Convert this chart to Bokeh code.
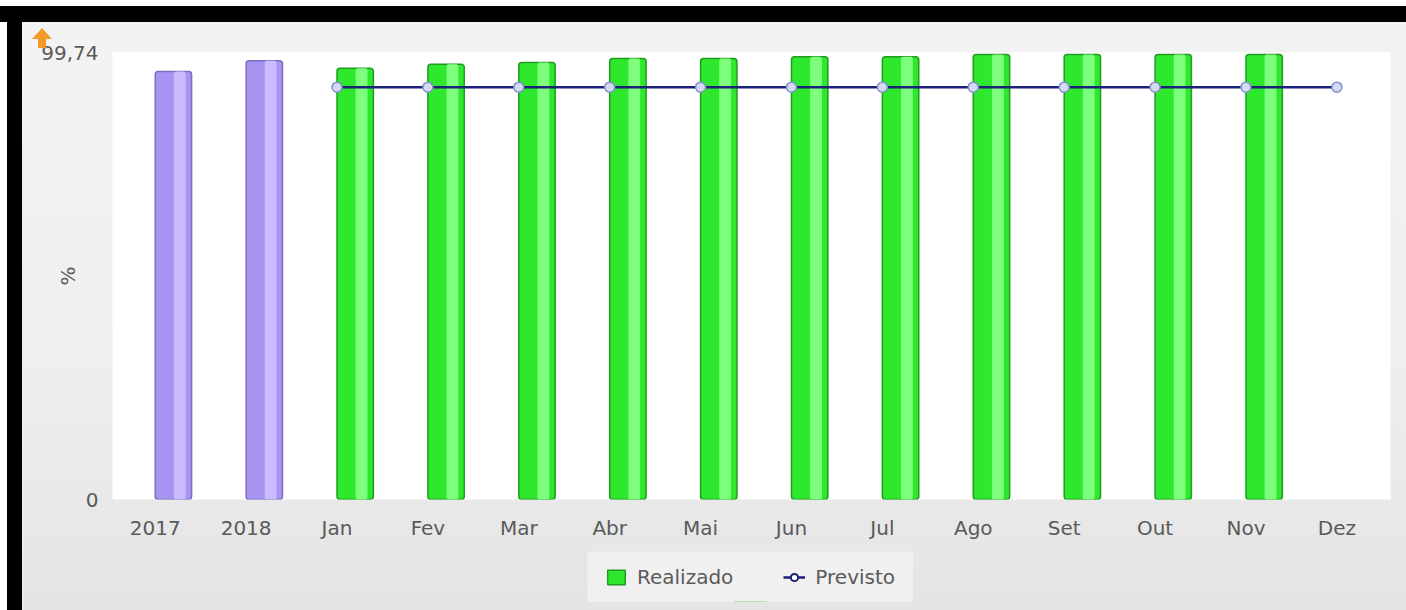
from bokeh.plotting import figure
from bokeh.models import (Range1d, FixedTicker, Legend, LegendItem, Div,
                          ColumnDataSource)
from bokeh.layouts import column, row
from bokeh.transform import dodge
from bokeh.embed import file_html
from bokeh.resources import INLINE

# ---- data ----
categories = ["2017", "2018", "Jan", "Fev", "Mar", "Abr", "Mai", "Jun", "Jul",
              "Ago", "Set", "Out", "Nov", "Dez"]
year_labels = ["2017", "2018"]
year_values = [95.5, 97.9]
month_labels = ["Jan", "Fev", "Mar", "Abr", "Mai", "Jun", "Jul", "Ago", "Set",
                "Out", "Nov"]
realizado = [96.2, 97.1, 97.5, 98.4, 98.4, 98.8, 98.8, 99.3, 99.3, 99.3, 99.3]
previsto_labels = ["Jan", "Fev", "Mar", "Abr", "Mai", "Jun", "Jul", "Ago",
                   "Set", "Out", "Nov", "Dez"]
previsto = [92.0] * 12
y_max = 99.74
legend_labels = ["Realizado", "Previsto"]

idx = {c: i for i, c in enumerate(categories)}
src_year = ColumnDataSource(dict(x=[idx[c] for c in year_labels], top=year_values))
src_month = ColumnDataSource(dict(x=[idx[c] for c in month_labels], top=realizado))
src_prev = ColumnDataSource(dict(x=[idx[c] for c in previsto_labels], y=previsto))

FONT = "DejaVu Sans"
TXT = "#5a5a5a"
FS = "20px"
GREEN, GREEN_LINE, GREEN_HI = "#2ee82e", "#1f9c1f", "#7dff7d"
NAVY = "#1b2178"

p = figure(frame_width=1278, frame_height=447, output_backend="svg",
           toolbar_location=None,
           x_range=Range1d(-0.47, 13.59), y_range=Range1d(0, y_max),
           min_border_left=89, min_border_right=16, min_border_top=30,
           min_border_bottom=111, margin=0)
p.border_fill_alpha = 0
p.background_fill_color = "white"
p.outline_line_color = None
p.styles = {"background": "linear-gradient(#f3f3f3 0px, #efefef 330px, #e4e4e4 588px)"}
p.xgrid.visible = False
p.ygrid.visible = False

# bars: years (purple)
BW = 0.40
p.vbar(x=dodge("x", 0.2, range=p.x_range), top="top", width=BW, source=src_year,
       fill_color="#a894f0", line_color="#7d6dc0", line_width=1.5, border_radius=3)
p.vbar(x=dodge("x", 0.27, range=p.x_range), top="top", width=0.13, source=src_year,
       fill_color="#c9bbff", line_color=None, border_radius=2)
# bars: months (green)
p.vbar(x=dodge("x", 0.2, range=p.x_range), top="top", width=BW, source=src_month,
       fill_color=GREEN, line_color=GREEN_LINE, line_width=1.5, border_radius=3)
p.vbar(x=dodge("x", 0.27, range=p.x_range), top="top", width=0.13, source=src_month,
       fill_color=GREEN_HI, line_color=None, border_radius=2)

# previsto line
p.line("x", "y", source=src_prev, line_color=NAVY, line_width=2.5)
p.scatter("x", "y", source=src_prev, size=10, fill_color="#d3daf2",
          line_color="#8290c8", line_width=1.5)

# axes
p.xaxis.ticker = FixedTicker(ticks=list(range(len(categories))))
p.xaxis.major_label_overrides = {i: c for i, c in enumerate(categories)}
p.xaxis.axis_line_color = None
p.xaxis.major_tick_line_color = None
p.xaxis.minor_tick_line_color = None
p.xaxis.major_label_standoff = 10
p.xaxis.major_label_text_font = FONT
p.xaxis.major_label_text_font_size = FS
p.xaxis.major_label_text_color = TXT

p.yaxis.ticker = FixedTicker(ticks=[0, y_max])
p.yaxis.major_label_overrides = {0: "0", y_max: "99,74"}
p.yaxis.axis_line_color = None
p.yaxis.major_tick_line_color = None
p.yaxis.minor_tick_line_color = None
p.yaxis.major_label_standoff = 8
p.yaxis.major_label_text_font = FONT
p.yaxis.major_label_text_font_size = FS
p.yaxis.major_label_text_color = TXT
p.yaxis.axis_label = "%"
p.yaxis.axis_label_standoff = -42
p.yaxis.axis_label_text_font = FONT
p.yaxis.axis_label_text_font_size = FS
p.yaxis.axis_label_text_font_style = "normal"
p.yaxis.axis_label_text_color = TXT

# legend (own small figure placed under the chart); its sample glyphs sit
# outside the visible range so only the legend swatches show
q = figure(width=326, height=51, output_backend="svg", toolbar_location=None,
           x_axis_type=None, y_axis_type=None, min_border=0, margin=0,
           x_range=Range1d(0, 1), y_range=Range1d(0, 1),
           styles={"position": "absolute", "left": "587px", "top": "551px",
                   "z-index": "5", "border-radius": "6px"})
q.background_fill_color = "#f0f0f0"
q.border_fill_color = "#f0f0f0"
q.outline_line_color = None
q.xgrid.visible = False
q.ygrid.visible = False
lg_bar = q.vbar(x=[0.5], bottom=[-10], top=[-5], width=0.1, fill_color=GREEN,
                line_color=GREEN_LINE, line_width=1.5)
lg_line = q.line(x=[0.2, 0.8], y=[-10, -10], line_color=NAVY, line_width=2.5)
lg_dot = q.scatter(x=[0.5], y=[-10], size=11, fill_color="white", line_color=NAVY,
                   line_width=2)
legend = Legend(items=[LegendItem(label=legend_labels[0], renderers=[lg_bar]),
                       LegendItem(label=legend_labels[1], renderers=[lg_line, lg_dot])],
                orientation="horizontal", location="center",
                label_text_font=FONT, label_text_font_size=FS,
                label_text_color=TXT, background_fill_color="#f0f0f0",
                background_fill_alpha=1, border_line_color=None,
                spacing=50, glyph_width=22, glyph_height=18, label_standoff=10,
                padding=10, margin=0)
q.add_layout(legend)

arrow_svg = ('<svg width="22" height="22" viewBox="0 0 22 22">'
             '<polygon points="11,1 21,12 15,12 15,21 7,21 7,12 1,12" '
             'fill="#f39a2b"/></svg>')
arrow = Div(text=arrow_svg, width=22, height=22, margin=0,
            styles={"position": "absolute", "left": "31px", "top": "27px",
                    "z-index": "10"})

top_bar = Div(width=1406, height=22, margin=0,
              styles={"background": "linear-gradient(white 0px, white 6px, black 6px, black 22px)"})
left_bar = Div(width=23, height=588, margin=0,
               styles={"background": "linear-gradient(90deg, white 0px, white 7px, black 7px, black 22px, #f2f2f2 22px)"})
layout = column(top_bar, row(left_bar, p, spacing=0), arrow, q, spacing=0)

open("out.html", "w").write(file_html(layout, INLINE))
